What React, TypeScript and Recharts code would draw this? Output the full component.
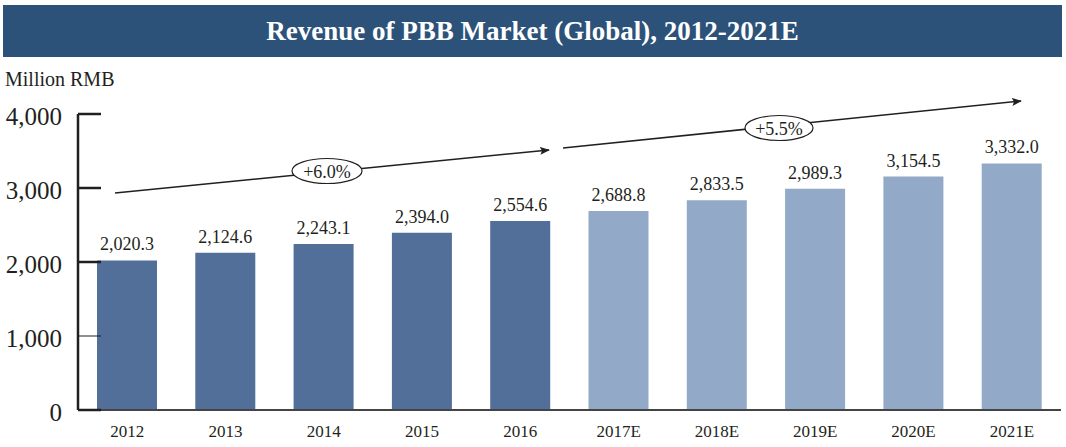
import React from 'react';
import { BarChart, Bar, XAxis, YAxis, Cell, LabelList } from 'recharts';

const years = ['2012', '2013', '2014', '2015', '2016', '2017E', '2018E', '2019E', '2020E', '2021E'];
const revenue = [2020.3, 2124.6, 2243.1, 2394.0, 2554.6, 2688.8, 2833.5, 2989.3, 3154.5, 3332.0];
const yTicks = [0, 1000, 2000, 3000, 4000];
const growthLabels = ['+6.0%', '+5.5%'];

const data = years.map((year, i) => ({ year, revenue: revenue[i] }));

const FONT = '"Liberation Serif", "DejaVu Serif", serif';
const INK = '#231f20';
const DARK_BAR = '#516f99';
const LIGHT_BAR = '#92a9c7';

const YTick = (props: any) => {
  const { x, y, payload } = props;
  const axisX = x + 16;
  return (
    <g>
      <line x1={axisX} x2={axisX + 23} y1={y} y2={y} stroke={INK} strokeWidth={payload.value === 1000 ? 1 : 2.5} />
      <text x={x} y={y + 2} textAnchor="end" dominantBaseline="central" fontSize={25} fontFamily={FONT} fill={INK}>
        {payload.value.toLocaleString('en-US')}
      </text>
    </g>
  );
};

const fmt = (v: any) => Number(v).toLocaleString('en-US', { minimumFractionDigits: 1, maximumFractionDigits: 1 });

// CAGR arrows drawn over the chart
const Arrows = () => (
  <svg width={1066} height={447} style={{ position: 'absolute', left: 0, top: 0, pointerEvents: 'none' }}>
    <defs>
      <marker id="head" markerWidth="10" markerHeight="8" refX="9" refY="4" orient="auto" markerUnits="userSpaceOnUse">
        <path d="M0,0 L10,4 L0,8 L2,4 Z" fill={INK} />
      </marker>
    </defs>
    <line x1={115} y1={193} x2={549} y2={150} stroke={INK} strokeWidth={1.5} markerEnd="url(#head)" />
    <ellipse cx={327} cy={171} rx={35} ry={12.5} fill="#fff" stroke={INK} strokeWidth={1.2} />
    <text x={327} y={172} textAnchor="middle" dominantBaseline="central" fontSize={18} fontFamily={FONT} fill={INK}>{growthLabels[0]}</text>
    <line x1={563} y1={148} x2={1021} y2={101} stroke={INK} strokeWidth={1.5} markerEnd="url(#head)" />
    <ellipse cx={779} cy={128} rx={34} ry={12.5} fill="#fff" stroke={INK} strokeWidth={1.2} />
    <text x={779} y={129} textAnchor="middle" dominantBaseline="central" fontSize={18} fontFamily={FONT} fill={INK}>{growthLabels[1]}</text>
  </svg>
);

export default function App() {
  return (
    <div style={{ position: 'absolute', left: 0, top: 0, width: 1066, height: 447, background: '#fff', fontFamily: FONT }}>
      <div style={{
        position: 'absolute', left: 3, top: 5, width: 1059, height: 52, background: '#2d5279',
        color: '#fff', fontWeight: 'bold', fontSize: 27, lineHeight: '52px', textAlign: 'center',
      }}>
        Revenue of PBB Market (Global), 2012-2021E
      </div>
      <div style={{ position: 'absolute', left: 5, top: 68, fontSize: 20, color: INK }}>Million RMB</div>
      <BarChart width={1066} height={447} data={data} margin={{ top: 114, right: 5, left: 0, bottom: 0 }}>
        <YAxis
          domain={[0, 4000]}
          ticks={yTicks}
          width={78}
          tickLine={false}
          tickSize={0}
          tickMargin={16}
          axisLine={{ stroke: INK, strokeWidth: 2.5 }}
          tick={<YTick />}
        />
        <XAxis
          dataKey="year"
          height={37}
          tickLine={false}
          tickSize={0}
          tickMargin={15}
          axisLine={{ stroke: '#444', strokeWidth: 2 }}
          tick={{ fontSize: 17, fontFamily: FONT, fill: INK }}
        />
        <Bar dataKey="revenue" barSize={60} isAnimationActive={false}>
          {data.map((d) => (
            <Cell key={d.year} fill={d.year.endsWith('E') ? LIGHT_BAR : DARK_BAR} />
          ))}
          <LabelList dataKey="revenue" position="top" offset={10} formatter={fmt}
            style={{ fontSize: 18, fontFamily: FONT, fill: INK }} />
        </Bar>
      </BarChart>
      <Arrows />
    </div>
  );
}
